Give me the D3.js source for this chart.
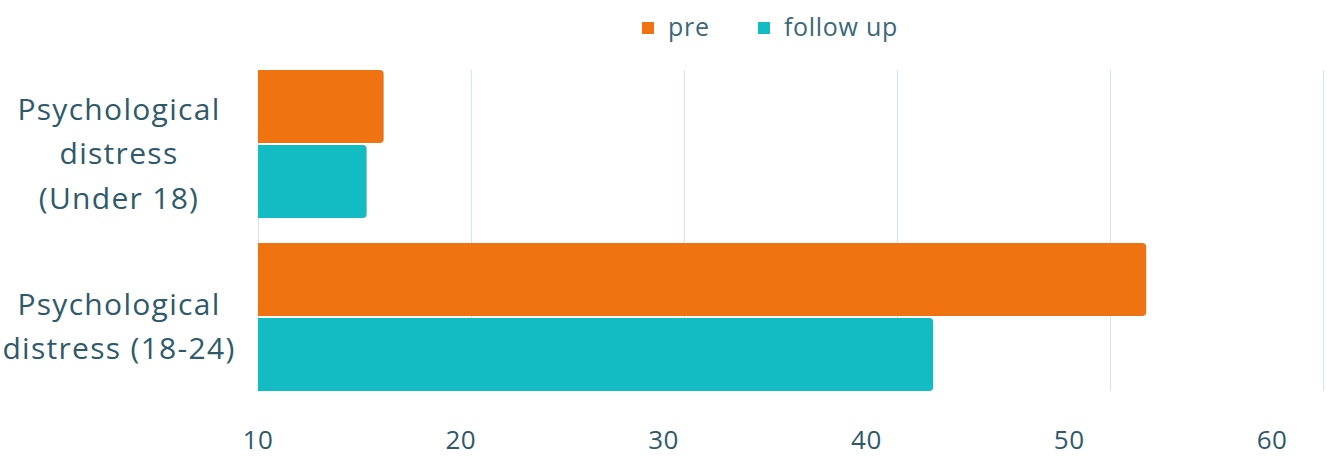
<!DOCTYPE html>
<html>
<head>
<meta charset="utf-8">
<script src="https://cdn.jsdelivr.net/npm/d3@7"></script>
<style>
  html, body { margin: 0; padding: 0; background: #ffffff; }
  svg { display: block; font-family: "Open Sans", "Lato", sans-serif; }
</style>
</head>
<body>
<svg id="chart" width="1327" height="457"></svg>
<script>
// Categories (one label per line) and series values
const categories = ["Psychological distress (Under 18)", "Psychological distress (18-24)"];
const categoryLines = [
  ["Psychological", "distress", "(Under 18)"],
  ["Psychological", "distress (18-24)"]
];
const seriesNames = ["pre", "follow up"];
const preValues = [15.9, 51.7];
const followUpValues = [15.1, 41.7];
const tickValues = [10, 20, 30, 40, 50, 60];
const seriesColors = ["#ef7411", "#13bbc3"];

const textColor = "#2e5a6a";
const gridColor = "#dde3ea";

const svg = d3.select("#chart");

const x = d3.scaleLinear().domain([10, 60]).range([258, 1323]);
// Tick labels sit on their own, slightly narrower spread below the plot
const xLabel = d3.scaleLinear().domain([10, 60]).range([258, 1272]);

const y = d3.scaleBand().domain(categories).range([70, 391]).paddingInner(25 / 173).paddingOuter(0);
const ySub = d3.scaleBand().domain(seriesNames).range([0, y.bandwidth()]).paddingInner(2 / 75).paddingOuter(0);

const plotTop = y.range()[0], plotBottom = y.range()[1];

// Vertical gridlines
svg.append("g")
  .selectAll("line")
  .data(tickValues)
  .join("line")
  .attr("x1", d => x(d) + 0.5)
  .attr("x2", d => x(d) + 0.5)
  .attr("y1", plotTop)
  .attr("y2", plotBottom)
  .attr("stroke", gridColor)
  .attr("stroke-width", 1.2);

// Bars with rounded right end
const r = 4;
function barPath(x0, x1, y0, h) {
  const rr = Math.min(r, (x1 - x0) / 2, h / 2);
  return `M${x0},${y0}H${x1 - rr}Q${x1},${y0} ${x1},${y0 + rr}V${y0 + h - rr}Q${x1},${y0 + h} ${x1 - rr},${y0 + h}H${x0}Z`;
}

const rows = categories.map((c, i) => ({
  cat: c,
  values: [
    { name: seriesNames[0], value: preValues[i], color: seriesColors[0] },
    { name: seriesNames[1], value: followUpValues[i], color: seriesColors[1] }
  ]
}));

const groups = svg.append("g")
  .selectAll("g")
  .data(rows)
  .join("g")
  .attr("transform", d => `translate(0,${y(d.cat)})`);

groups.selectAll("path")
  .data(d => d.values)
  .join("path")
  .attr("d", d => barPath(x(10), x(d.value), ySub(d.name), ySub.bandwidth()))
  .attr("fill", d => d.color);

// Category labels
const lineH = 44.5;
const catG = svg.append("g");
categories.forEach((c, i) => {
  const lines = categoryLines[i];
  const center = y(c) + y.bandwidth() / 2;
  const n = lines.length;
  const t = catG.append("text")
    .attr("text-anchor", "middle")
    .attr("fill", textColor)
    .attr("font-size", 30)
    .attr("letter-spacing", 1.3);
  lines.forEach((ln, j) => {
    t.append("tspan")
      .attr("x", 119)
      .attr("y", center + 20 + (j - (n - 1) / 2) * lineH)
      .text(ln);
  });
});

// Tick labels
svg.append("g")
  .selectAll("text")
  .data(tickValues)
  .join("text")
  .attr("x", d => xLabel(d))
  .attr("y", 449)
  .attr("text-anchor", "middle")
  .attr("fill", textColor)
  .attr("font-size", 26)
  .attr("letter-spacing", 0.5)
  .text(d => d);

// Legend
const legendItems = [
  { name: seriesNames[0], color: seriesColors[0], x: 642 },
  { name: seriesNames[1], color: seriesColors[1], x: 758 }
];
const lg = svg.append("g");
legendItems.forEach(it => {
  lg.append("rect")
    .attr("x", it.x).attr("y", 22)
    .attr("width", 12).attr("height", 12)
    .attr("fill", it.color);
  lg.append("text")
    .attr("x", it.x + 26).attr("y", 36)
    .attr("fill", "#3b6777")
    .attr("font-size", 25)
    .attr("letter-spacing", 0.7)
    .text(it.name);
});
</script>
</body>
</html>
